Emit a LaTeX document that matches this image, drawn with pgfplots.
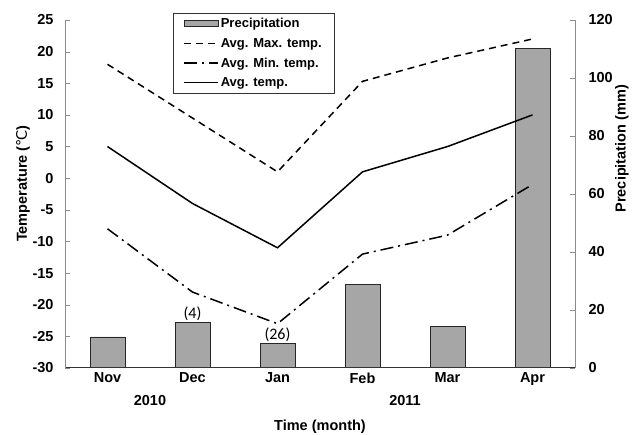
\documentclass[border=0pt]{standalone}
\usepackage{pgfplots}
\pgfplotsset{compat=1.18}
\usepackage{fontspec}
\setmainfont{Liberation Sans}
\newfontfamily\dejavu{DejaVu Sans}
\newfontfamily\carlito{Carlito}
\definecolor{barfill}{RGB}{166,166,166}
\definecolor{axgray}{RGB}{140,140,140}
\begin{document}
\begin{tikzpicture}[x=1pt,y=1pt]
\path[use as bounding box] (-65,-67) rectangle (578,368);
\pgfplotsset{
 base/.style={
  at={(0,0)}, anchor=south west,
  scale only axis, width=510pt, height=348pt,
  xmin=-0.5, xmax=5.5,
  font=\fontsize{14.5}{17}\selectfont\bfseries,
  /pgf/number format/assume math mode=true,
  tick align=inside,
  major tick length=5pt,
 }
}
\begin{axis}[base,
  axis y line*=right, axis x line=none,
  ymin=0, ymax=120, ytick={0,20,...,120},
  y axis line style={draw=axgray,-},
  ytick style={draw=axgray},
  yticklabel style={anchor=west, xshift=10pt},
]
\addplot[ybar, bar width=0.41, fill=barfill, draw=black!85, line width=0.8pt] coordinates {(0,10.7)(1,15.8)(2,8.6)(3,28.9)(4,14.3)(5,110.2)};
\node[font=\carlito\fontsize{16}{18}\selectfont, anchor=south, inner sep=1.5pt] at (axis cs:1,15.8) {(4)};
\node[font=\carlito\fontsize{16}{18}\selectfont, anchor=south, inner sep=1.5pt] at (axis cs:2,8.6) {(26)};
\end{axis}
\begin{axis}[base,
  axis x line*=bottom, axis y line*=left,
  ymin=-30, ymax=25, ytick={-30,-25,...,25},
  xtick={0,...,5}, xticklabels={Nov,Dec,Jan,Feb,Mar,Apr},
  x axis line style={draw=black!80, line width=1pt,-},
  major x tick style={draw=none},
  y axis line style={draw=axgray,-},
  ytick style={draw=axgray},
  yticklabel style={anchor=east, xshift=-8pt},
  xticklabel style={yshift=-1pt},
  legend style={at={(rel axis cs:0.212,1.02)}, anchor=north west, draw=black!80,
    font=\fontsize{13}{15}\selectfont\bfseries, inner xsep=10pt, inner ysep=3pt,
    row sep=5pt, cells={anchor=west}},
  legend image code/.code={\draw[#1] (0pt,0pt) -- (34pt,0pt);},
  clip=false,
]
\addlegendimage{legend image code/.code={\draw[fill=barfill,draw=black!85,line width=0.6pt] (0pt,-3pt) rectangle (34pt,3pt);}}
\addlegendentry{Precipitation}
\addplot[black, line width=1.5pt, dash pattern=on 7pt off 5pt] coordinates {(0,18)(1,9.5)(2,1)(3,15.3)(4,19)(5,22)};
\addlegendentry{Avg. Max. temp.}
\addplot[black, line width=1.5pt, dash pattern=on 13pt off 5pt on 2pt off 5pt] coordinates {(0,-8)(1,-18)(2,-23)(3,-12)(4,-9)(5,-1)};
\addlegendentry{Avg. Min. temp.}
\addplot[black, line width=1.5pt] coordinates {(0,5)(1,-4)(2,-11)(3,1)(4,5)(5,10)};
\addlegendentry{Avg. temp.}
\node at ([yshift=-33pt]axis cs:0.5,-30) {2010};
\node at ([yshift=-33pt]axis cs:3.5,-30) {2011};
\node at ([yshift=-59pt]axis cs:2.5,-30) {Time (month)};
\node[rotate=90] at ([xshift=-42pt]rel axis cs:0,0.53) {Temperature ({\dejavu\mdseries ℃})};
\node[rotate=90] at ([xshift=47pt]rel axis cs:1,0.63) {Precipitation (mm)};
\end{axis}
\end{tikzpicture}
\end{document}
